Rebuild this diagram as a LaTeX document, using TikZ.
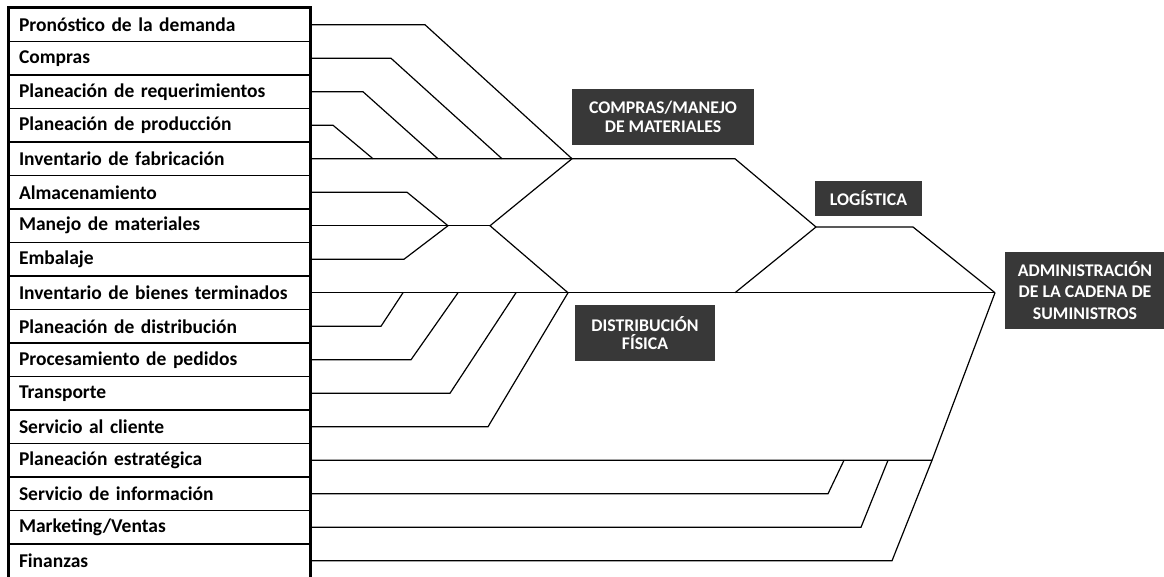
\documentclass[tikz,border=0pt]{standalone}
\usepackage{fontspec}
\setmainfont{Carlito}
\begin{document}
\begin{tikzpicture}[x=1pt,y=-1pt,
  rowbox/.style={draw,line width=1.1pt,minimum width=301pt,minimum height=33.5pt,
    inner xsep=10pt,inner ysep=0pt,text width=281pt,align=left,anchor=center,
    font=\fontsize{19.5}{22}\selectfont\bfseries},
  tag/.style={fill=black!78,text=white,align=center,inner sep=0pt,
    font=\fontsize{17.8}{18.5}\selectfont\bfseries},
  link/.style={line width=1.2pt,line join=miter}]
\useasboundingbox (0,0) rectangle (1164,577);

% list of activities
\foreach \t [count=\i from 0] in {Pronóstico de la demanda,Compras,Planeación de requerimientos,
  Planeación de producción,Inventario de fabricación,Almacenamiento,Manejo de materiales,
  Embalaje,Inventario de bienes terminados,Planeación de distribución,Procesamiento de pedidos,
  Transporte,Servicio al cliente,Planeación estratégica,Servicio de información,
  Marketing/Ventas,Finanzas}
  \node[rowbox] (r\i) at (159.5,{24.75+33.5*\i}) {\t};
\draw[line width=2pt] (r0.north west) rectangle (r16.south east);

% junctions
\coordinate (jA) at (572,158.75);
\coordinate (jB) at (490,225.75);
\coordinate (jC) at (568,292.75);
\coordinate (jL1) at (735,158.75);
\coordinate (jL2) at (816,227);
\coordinate (jL3) at (913,227);
\coordinate (jD) at (735,292.75);
\coordinate (jS) at (995,292.75);
\coordinate (jE) at (932,460.25);

% compras / manejo de materiales
\draw[link] (r0.east) -- (425,24.75) -- (jA);
\draw[link] (r1.east) -- (391,58.25) -- (502,158.75);
\draw[link] (r2.east) -- (363,91.75) -- (438,158.75);
\draw[link] (r3.east) -- (333,125.25) -- (373,158.75);
\draw[link] (r4.east) -- (jA) -- (jL1) -- (jL2) -- (jL3) -- (jS);

% almacenamiento, manejo, embalaje
\draw[link] (r5.east) -- (407,192.25) -- (448,225.75);
\draw[link] (r7.east) -- (404,259.25) -- (448,225.75);
\draw[link] (r6.east) -- (jB);
\draw[link] (jA) -- (jB) -- (jC);

% distribucion fisica
\draw[link] (r8.east) -- (jC) -- (jD) -- (jS);
\draw[link] (r9.east) -- (381,326.25) -- (403,292.75);
\draw[link] (r10.east) -- (411,359.75) -- (458,292.75);
\draw[link] (r11.east) -- (450,393.25) -- (516,292.75);
\draw[link] (r12.east) -- (488,426.75) -- (jC);
\draw[link] (jD) -- (jL2);

% funciones de apoyo
\draw[link] (r13.east) -- (jE) -- (jS);
\draw[link] (r14.east) -- (828,493.75) -- (844,460.25);
\draw[link] (r15.east) -- (861,527.25) -- (888,460.25);
\draw[link] (r16.east) -- (892,560.75) -- (jE);

% tags
\node[tag,minimum width=182pt,minimum height=56pt] (tCompras) at (663,117) {COMPRAS/MANEJO\\DE MATERIALES};
\node[tag,minimum width=107pt,minimum height=35pt] (tLog) at (868.5,198.5) {LOGÍSTICA};
\node[tag,minimum width=140pt,minimum height=56pt] (tDist) at (645,333) {DISTRIBUCIÓN\\FÍSICA};
\node[tag,minimum width=160pt,minimum height=77pt,font=\fontsize{17.8}{21.5}\selectfont\bfseries] (tSCM) at (1085,290.5) {ADMINISTRACIÓN\\DE LA CADENA DE\\SUMINISTROS};
\end{tikzpicture}
\end{document}
